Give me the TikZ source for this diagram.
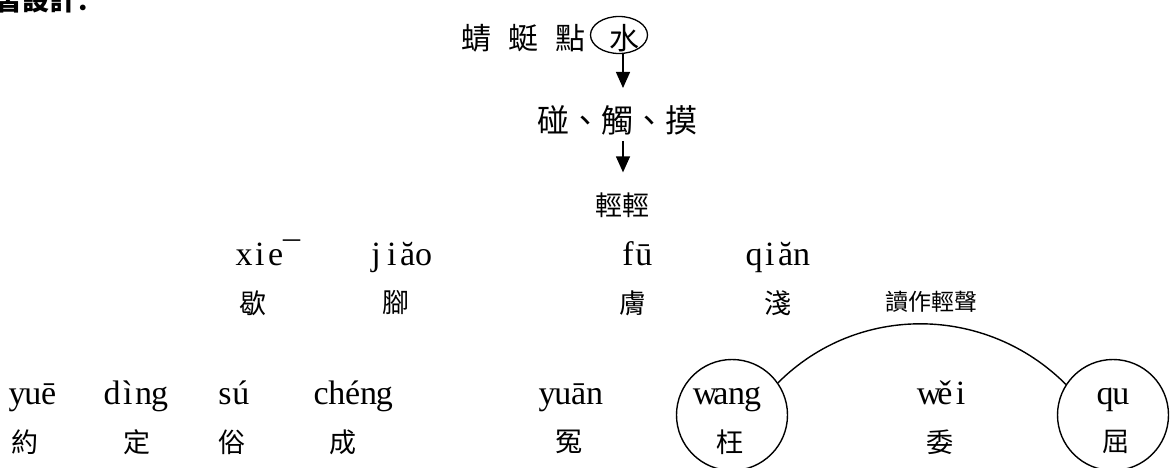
\documentclass[tikz,border=0pt]{standalone}
\usepackage{fontspec}
\setmainfont{Liberation Serif}
\newfontfamily\cjk{Noto Sans CJK TC}
\newfontfamily\cjksc{Noto Sans CJK SC}
\usetikzlibrary{arrows.meta,shapes.geometric}
\def\pyloop#1{\ifx#1\relax\else\makebox[15.8pt]{#1}\expandafter\pyloop\fi}
\newcommand\pinyin[1]{\pyloop#1\relax}
\tikzset{
  py/.style={font=\fontsize{34}{40}\selectfont, anchor=base west, inner sep=0pt},
  zh/.style={font=\cjk\fontsize{27}{32}\selectfont, inner sep=0pt},
  zhbig/.style={font=\cjk\fontsize{30}{36}\selectfont, inner sep=0pt},
  zhsmall/.style={font=\cjk\fontsize{23}{28}\selectfont, inner sep=0pt},
  arr/.style={line width=1.3pt, -{Triangle[length=16pt,width=14pt]}},
  ring/.style={draw, circle, line width=1.4pt, minimum size=111pt, inner sep=0pt},
}
\begin{document}
\begin{tikzpicture}[x=1pt,y=-1pt]
\useasboundingbox (0,0) rectangle (1175,468);
\clip (0,0) rectangle (1175,468);
% cut-off title
\node[font=\cjksc\bfseries\fontsize{27}{32}\selectfont, anchor=south west, inner sep=0pt] (title) at (-5,13) {習設計：};
% top line
\node[zhbig, anchor=west] (dragonfly) at (461,38) {蜻\hspace{17pt}蜓\hspace{17pt}點};
\node[draw, ellipse, line width=1.3pt, minimum width=57pt, minimum height=37pt, inner sep=0pt] (shui) at (619,35) {};
\node[zhbig] (shuitext) at (624,38) {水};
\node[font=\cjk\fontsize{32}{38}\selectfont, inner sep=0pt] (chumo) at (617,120) {碰、觸、摸};
\node[zh] (qing) at (622,205) {輕輕};
\draw[arr, shorten >=17pt] ([xshift=4pt]shui.south) -- ([xshift=4pt]shui.south |- chumo.north);
\draw[arr, shorten <=6pt, shorten >=20pt] ([xshift=4pt]shui.south |- chumo.south) -- ([xshift=4pt]shui.south |- qing.north);
% row 1
\node[py] (xie) at (236,265) {\pinyin{xie¯}};
\node[py] (jiao) at (368,265) {\pinyin{jiăo}};
\node[py] (fu) at (620,265) {\pinyin{fū}};
\node[py] (qian) at (746,265) {\pinyin{qiăn}};
\node[zh] (xiezh) at (253,303) {歇};
\node[zh] (jiaozh) at (396,303) {腳};
\node[zh] (fuzh) at (633,303) {膚};
\node[zh] (qianzh) at (778,303) {淺};
\node[zhsmall] (note) at (931,302) {讀作輕聲};
% row 2
\node[py] (yue) at (9,404) {\pinyin{yuē}};
\node[py] (ding) at (104,404) {\pinyin{dìng}};
\node[py] (su) at (217,404) {\pinyin{sú}};
\node[py] (cheng) at (313,404) {\pinyin{chéng}};
\node[py] (yuan) at (539,404) {\pinyin{yuān}};
\node[py] (wang) at (697,404) {\pinyin{wang}};
\node[py] (wei) at (921,404) {\pinyin{wěi}};
\node[py] (qu) at (1097,404) {\pinyin{qu}};
\node[zh] (yuezh) at (25,442) {約};
\node[zh] (dingzh) at (137,442) {定};
\node[zh] (suzh) at (232,442) {俗};
\node[zh] (chengzh) at (343,442) {成};
\node[zh] (yuanzh) at (569,442) {冤};
\node[zh] (wangzh) at (730,442) {枉};
\node[zh] (weizh) at (940,442) {委};
\node[zh] (quzh) at (1116,442) {屈};
\node[ring] (wangc) at (732,415) {};
\node[ring] (quc) at (1113,415) {};
\draw[line width=1.4pt] (wangc.35) to[out=45,in=135] (quc.147);
\end{tikzpicture}
\end{document}
